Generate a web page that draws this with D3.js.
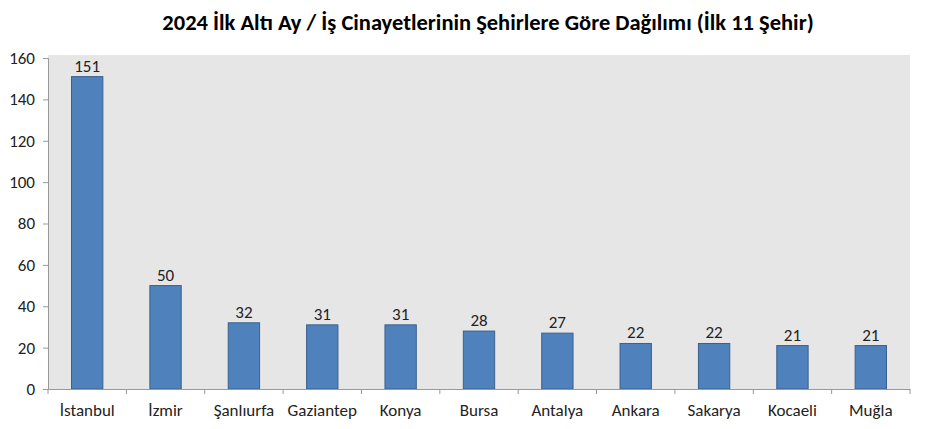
<!DOCTYPE html>
<html><head><meta charset="utf-8">
<script src="https://cdn.jsdelivr.net/npm/d3@7"></script>
<style>body{margin:0;background:#fff}text{font-family:Calibri,Carlito,"Open Sans",sans-serif}</style>
</head><body><svg id="c" width="926" height="429"></svg>
<script>
const categories=["İstanbul","İzmir","Şanlıurfa","Gaziantep","Konya","Bursa","Antalya","Ankara","Sakarya","Kocaeli","Muğla"];
const values=[151,50,32,31,31,28,27,22,22,21,21];
const yTicks=[0,20,40,60,80,100,120,140,160];
const title="2024 İlk Altı Ay / İş Cinayetlerinin Şehirlere Göre Dağılımı (İlk 11 Şehir)";
const svg=d3.select("#c");
const L=48,R=910,T=58,B=389;
const xb=d3.scaleBand().domain(categories).range([L,R]);
const y=d3.scaleLinear().domain([0,160]).range([B,T]);
svg.append("rect").attr("x",L).attr("y",T-3).attr("width",R-L).attr("height",B-T+3).attr("fill","#e6e6e6");
svg.append("text").attr("x",488).attr("y",30).attr("text-anchor","middle").attr("font-size",22.5).attr("font-weight","bold").text(title);
svg.selectAll(".b").data(values).join("rect").attr("x",(d,i)=>xb(categories[i])+xb.bandwidth()*0.3).attr("width",xb.bandwidth()*0.4)
 .attr("y",d=>y(d)).attr("height",d=>B-y(d)).attr("fill","#4f81bd").attr("stroke","#3a6190").attr("stroke-width",1);
svg.selectAll(".v").data(values).join("text").attr("x",(d,i)=>xb(categories[i])+xb.bandwidth()/2).attr("y",d=>y(d)-5)
 .attr("text-anchor","middle").attr("font-size",17).attr("fill","#222").text(d=>d);
const ya=svg.append("g").attr("transform",`translate(${L},0)`).call(d3.axisLeft(y).tickValues(yTicks).tickSize(5).tickPadding(8));
const xa=svg.append("g").attr("transform",`translate(0,${B})`).call(d3.axisBottom(xb).tickSize(0).tickPadding(15));
[ya,xa].forEach(a=>{a.select(".domain").attr("stroke","#999");a.selectAll("line").attr("stroke","#999");a.selectAll("text").attr("font-size",17).attr("fill","#222").attr("font-family","Calibri,Carlito,'Open Sans',sans-serif");});
svg.selectAll(".xt").data(d3.range(categories.length+1)).join("line").attr("x1",i=>L+i*xb.step()).attr("x2",i=>L+i*xb.step()).attr("y1",B).attr("y2",B+5).attr("stroke","#999");
</script></body></html>
